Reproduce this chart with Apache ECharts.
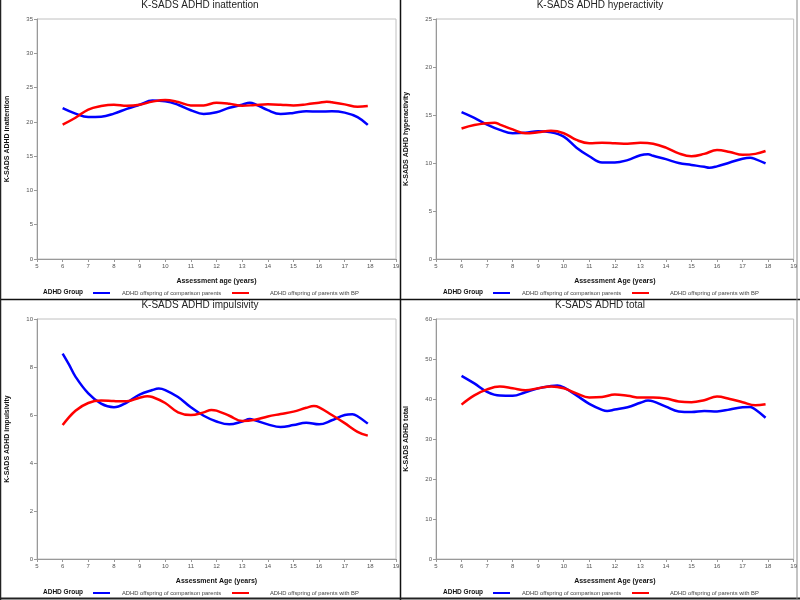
<!DOCTYPE html>
<html>
<head>
<meta charset="utf-8">
<script src="https://cdn.jsdelivr.net/npm/echarts@6/dist/echarts.min.js"></script>
<style>html,body{margin:0;padding:0;background:#fff}#c{width:800px;height:600px}</style>
</head>
<body>
<div id="c"></div>
<script>
// ---- data ----
const panelTitles = ['K-SADS ADHD inattention','K-SADS ADHD hyperactivity','K-SADS ADHD impulsivity','K-SADS ADHD total'];
const yNames = ['K-SADS ADHD inattention','K-SADS ADHD hyperactivity','K-SADS ADHD impulsivity','K-SADS ADHD total'];
const xNames = ['Assessment age (years)','Assessment Age (years)','Assessment Age (years)','Assessment Age (years)'];
const yMax = [35, 25, 10, 60];
const yStep = [5, 5, 2, 10];
const groupNames = ['ADHD offspring of comparison parents','ADHD offspring of parents with BP'];

const inattCompAge = [6,6.5,7,7.5,8,8.5,9,9.5,10,10.5,11,11.5,12,12.5,13,13.3,13.5,14,14.5,15,15.5,16,16.5,17,17.5,17.9];
const inattComp = [22.0,21.2,20.7,20.75,21.2,21.9,22.5,23.1,23.0,22.5,21.7,21.15,21.4,22.05,22.5,22.8,22.6,21.7,21.15,21.3,21.55,21.5,21.55,21.35,20.7,19.55];
const inattBPAge = [6,6.5,7,7.5,8,8.5,9,9.5,10,10.5,11,11.5,12,12.5,13,13.5,14,14.5,15,15.5,16,16.3,16.5,17,17.5,17.9];
const inattBP = [19.6,20.6,21.8,22.3,22.5,22.35,22.5,22.95,23.2,22.9,22.4,22.4,22.8,22.65,22.35,22.45,22.55,22.5,22.4,22.55,22.8,22.95,22.85,22.55,22.2,22.3];

const hyperCompAge = [6,6.5,7,7.5,8,8.5,9,9.5,10,10.5,11,11.5,12,12.5,13,13.3,13.5,14,14.5,15,15.5,15.7,16,16.5,17,17.3,17.5,17.9];
const hyperComp = [15.3,14.7,14.0,13.45,13.1,13.15,13.3,13.2,12.75,11.6,10.7,10.05,10.05,10.3,10.8,10.9,10.75,10.4,10.0,9.8,9.6,9.5,9.65,10.05,10.45,10.55,10.4,9.95];
const hyperBPAge = [6,6.5,7,7.3,7.5,8,8.5,9,9.5,10,10.5,11,11.5,12,12.5,13,13.5,14,14.5,15,15.5,16,16.5,17,17.5,17.9];
const hyperBP = [13.6,13.95,14.15,14.2,14.0,13.5,13.1,13.2,13.35,13.1,12.4,12.05,12.1,12.05,12.0,12.1,12.0,11.6,11.0,10.7,10.95,11.35,11.15,10.85,10.95,11.25];

const impCompAge = [6,6.25,6.5,7,7.5,8,8.5,9,9.5,9.75,10,10.5,11,11.5,12,12.5,13,13.3,13.5,14,14.5,15,15.5,16,16.5,17,17.3,17.5,17.9];
const impComp = [8.56,8.1,7.6,6.9,6.47,6.32,6.52,6.85,7.04,7.1,7.04,6.75,6.32,5.97,5.73,5.61,5.73,5.83,5.78,5.61,5.5,5.58,5.68,5.61,5.78,6.0,6.03,5.95,5.64];
const impBPAge = [6,6.5,7,7.5,8,8.5,9,9.3,9.5,10,10.5,11,11.5,11.8,12,12.5,13,13.5,14,14.5,15,15.5,15.8,16,16.5,17,17.5,17.9];
const impBP = [5.58,6.18,6.5,6.6,6.58,6.57,6.72,6.78,6.75,6.5,6.11,6.0,6.11,6.21,6.18,5.97,5.75,5.8,5.94,6.04,6.14,6.3,6.37,6.32,6.0,5.66,5.3,5.14];

const totCompAge = [6,6.5,7,7.5,8,8.5,9,9.5,9.75,10,10.5,11,11.5,11.7,12,12.5,13,13.3,13.5,14,14.5,15,15.5,16,16.5,17,17.3,17.5,17.9];
const totComp = [45.8,43.9,41.8,40.85,40.8,41.7,42.65,43.25,43.4,42.9,40.9,38.8,37.3,37.0,37.35,37.95,39.05,39.6,39.4,38.1,36.9,36.75,37.0,36.9,37.4,37.95,38.0,37.35,35.3];
const totBPAge = [6,6.5,7,7.5,8,8.5,9,9.5,10,10.5,11,11.5,12,12.5,13,13.5,14,14.5,15,15.5,16,16.5,17,17.5,17.9];
const totBP = [38.6,40.9,42.4,43.1,42.7,42.2,42.7,43.15,42.7,41.4,40.4,40.5,41.1,40.8,40.35,40.35,40.1,39.4,39.2,39.7,40.6,40.0,39.2,38.45,38.7];

const compSeries = [[inattCompAge,inattComp],[hyperCompAge,hyperComp],[impCompAge,impComp],[totCompAge,totComp]];
const bpSeries = [[inattBPAge,inattBP],[hyperBPAge,hyperBP],[impBPAge,impBP],[totBPAge,totBP]];

// ---- layout ----
const panels = [
  {ox:0, oy:0, left:37, top:19, w:359, h:240},
  {ox:400, oy:0, left:436, top:19, w:358, h:240},
  {ox:0, oy:300, left:37, top:319, w:359, h:240},
  {ox:400, oy:300, left:436, top:319, w:358, h:240}
];
const font = 'Arial, "Liberation Sans", sans-serif';
const zip = (a,b) => a.map((x,i)=>[x,b[i]]);

const option = {
  animation:false,
  backgroundColor:'#fff',
  title:[], grid:[], xAxis:[], yAxis:[], series:[], legend:[], graphic:[]
};

panels.forEach((p,i)=>{
  option.title.push({
    text: panelTitles[i], left: p.ox + 200, top: p.oy + 0, textAlign:'center', padding:0,
    textStyle:{fontFamily:font, fontSize:10, fontWeight:'normal', color:'#222'}
  });
  option.grid.push({left:p.left, top:p.top, width:p.w, height:p.h, show:true, borderColor:'#c0c0c0', borderWidth:1, containLabel:false});
  option.xAxis.push({
    type:'value', gridIndex:i, min:5, max:19, interval:1,
    name: xNames[i], nameLocation:'middle', nameGap:19,
    nameTextStyle:{fontFamily:font, fontSize:7, fontWeight:'bold', color:'#111'},
    axisLine:{show:true, onZero:false, lineStyle:{color:'#999', width:1}},
    axisTick:{show:true, length:3, lineStyle:{color:'#999'}},
    axisLabel:{fontFamily:font, fontSize:6, color:'#555', margin:4},
    splitLine:{show:false}
  });
  option.yAxis.push({
    type:'value', gridIndex:i, min:0, max:yMax[i], interval:yStep[i],
    name: yNames[i], nameLocation:'middle', nameGap:26, nameRotate:90,
    nameTextStyle:{fontFamily:font, fontSize:7, fontWeight:'bold', color:'#111'},
    axisLine:{show:true, lineStyle:{color:'#999', width:1}},
    axisTick:{show:true, length:3, lineStyle:{color:'#999'}},
    axisLabel:{fontFamily:font, fontSize:6, color:'#555', margin:4},
    splitLine:{show:false}
  });
  option.series.push({
    type:'line', name:groupNames[0], xAxisIndex:i, yAxisIndex:i,
    data: zip(compSeries[i][0], compSeries[i][1]), smooth:0.4, showSymbol:false,
    lineStyle:{color:'#0000ff', width:2.5}, itemStyle:{color:'#0000ff'}
  });
  option.series.push({
    type:'line', name:groupNames[1], xAxisIndex:i, yAxisIndex:i,
    data: zip(bpSeries[i][0], bpSeries[i][1]), smooth:0.4, showSymbol:false,
    lineStyle:{color:'#ff0000', width:2.5}, itemStyle:{color:'#ff0000'}
  });
  option.legend.push({
    data:[{name:groupNames[0], icon:'rect'}], left:p.ox + 93, top:p.oy + 290,
    itemWidth:17, itemHeight:2, padding:0, selectedMode:false,
    textStyle:{fontFamily:font, fontSize:5.8, color:'#444', padding:[0,0,0,7]}
  });
  option.legend.push({
    data:[{name:groupNames[1], icon:'rect'}], left:p.ox + 232, top:p.oy + 290,
    itemWidth:17, itemHeight:2, padding:0, selectedMode:false,
    textStyle:{fontFamily:font, fontSize:5.8, color:'#444', padding:[0,0,0,16]}
  });
  option.graphic.push({
    type:'text', left:p.ox + 43, top:p.oy + 289,
    style:{text:'ADHD Group', fontFamily:font, fontSize:6.5, fontWeight:'bold', fill:'#111'}
  });
});

// panel borders
option.graphic.push(
  {type:'line', shape:{x1:400.5, y1:0, x2:400.5, y2:600}, style:{stroke:'#111', lineWidth:1.5}},
  {type:'line', shape:{x1:0, y1:299.5, x2:800, y2:299.5}, style:{stroke:'#111', lineWidth:1.5}},
  {type:'line', shape:{x1:0.5, y1:0, x2:0.5, y2:600}, style:{stroke:'#222', lineWidth:1.5}},
  {type:'line', shape:{x1:0, y1:598.5, x2:800, y2:598.5}, style:{stroke:'#222', lineWidth:2}},
  {type:'line', shape:{x1:797, y1:0, x2:797, y2:600}, style:{stroke:'#888', lineWidth:1}}
);

const chart = echarts.init(document.getElementById('c'), null, {renderer:'canvas'});
chart.setOption(option);
</script>
</body>
</html>
